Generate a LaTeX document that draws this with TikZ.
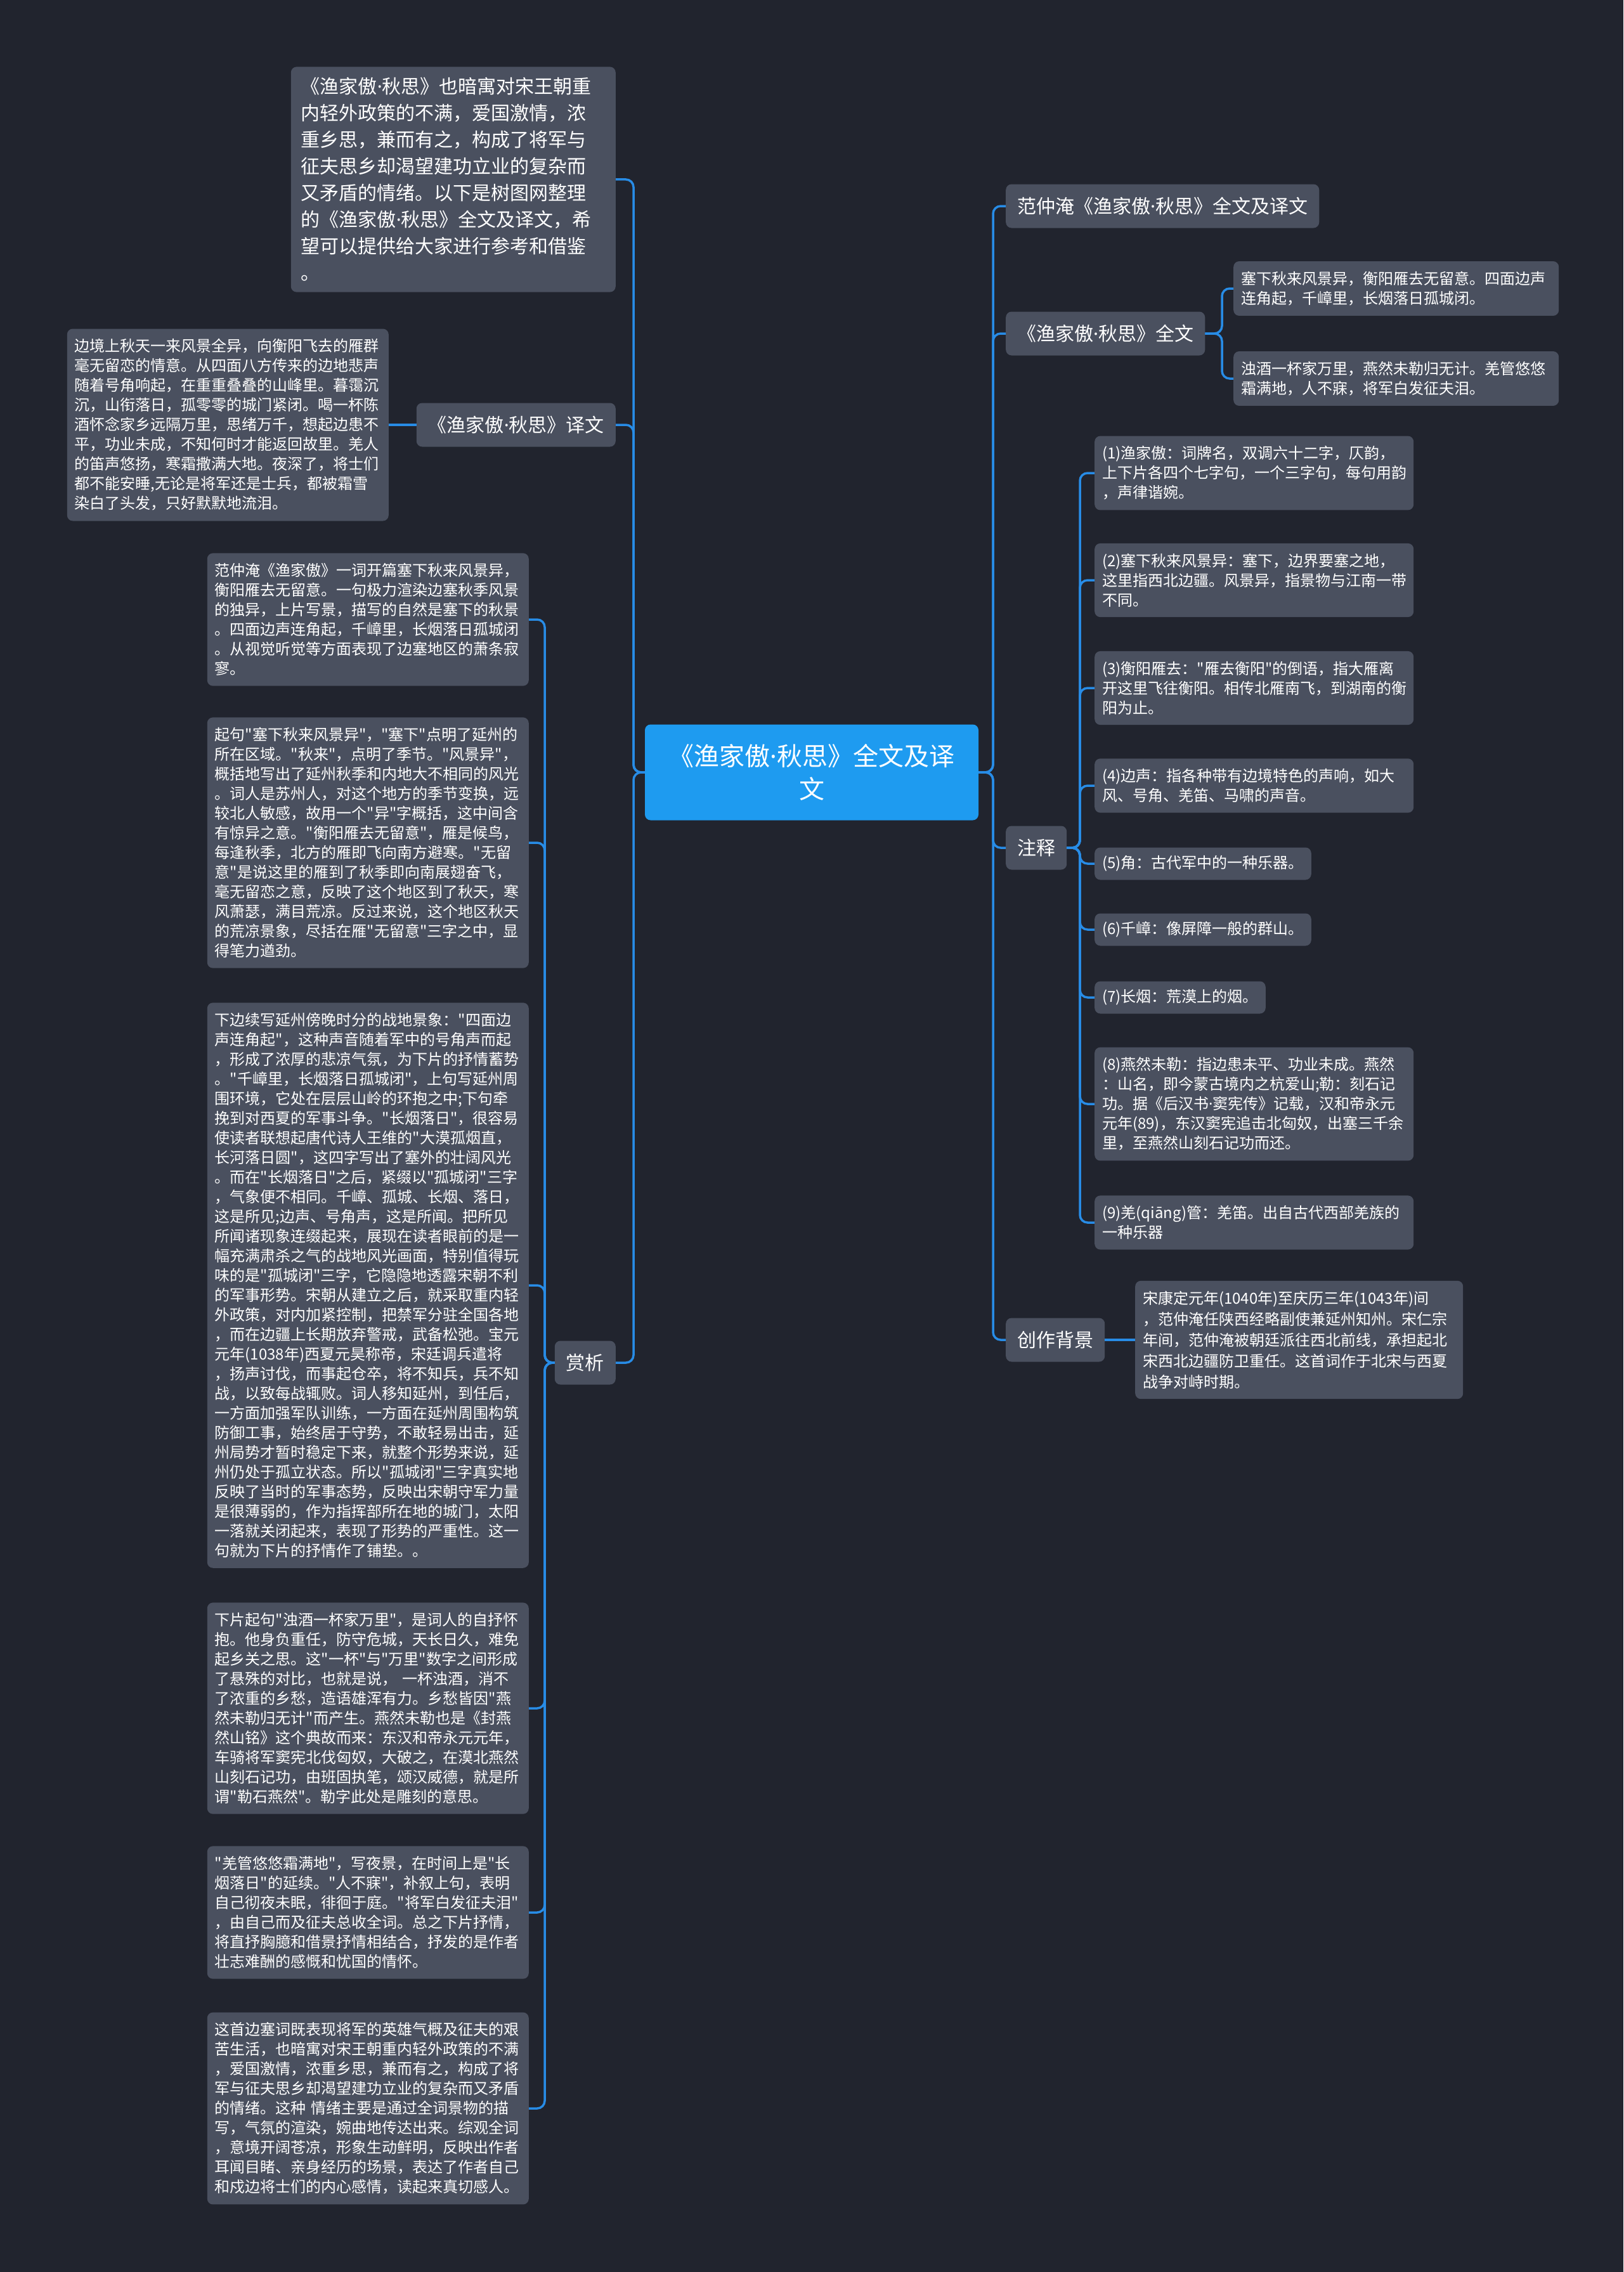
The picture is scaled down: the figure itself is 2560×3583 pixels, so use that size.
\documentclass[tikz,border=0pt]{standalone}
\usepackage{fontspec}
\setmainfont{Noto Sans CJK SC}[Ligatures=TeXOff]
\newfontfamily\latinf{Noto Sans}[Ligatures=TeXOff]
\newcommand\md{{\latinf ·}}
\definecolor{bgc}{HTML}{21242E}
\definecolor{boxc}{HTML}{4A505F}
\definecolor{linec}{HTML}{288CE6}
\definecolor{centc}{HTML}{1E9BF0}
\begin{document}
\begin{tikzpicture}[x=1pt,y=-1pt,
  conn/.style={draw=linec, line width=3.5pt, rounded corners=12pt},
  cnode/.style={fill=centc, text=white, rounded corners=9pt, minimum width=526pt, minimum height=151pt, align=center, font=\fontsize{40}{52}\selectfont},
  lbox/.style={fill=boxc, text=white, rounded corners=9pt, inner xsep=18pt, inner ysep=0pt, minimum height=69pt, font=\fontsize{30}{42}\selectfont},
  bigbox/.style={fill=boxc, text=white, rounded corners=9pt, inner xsep=16pt, inner ysep=17pt, align=left, font=\fontsize{30}{42}\selectfont},
  sbox/.style={fill=boxc, text=white, rounded corners=9pt, inner xsep=12pt, inner ysep=16pt, align=left, font=\fontsize{24}{31}\selectfont},
  onebox/.style={fill=boxc, text=white, rounded corners=9pt, inner xsep=12pt, inner ysep=0pt, minimum height=51pt, font=\fontsize{24}{31}\selectfont}
]
\fill[bgc] (0,0) rectangle (2560,3583);
\useasboundingbox (0,0) rectangle (2560,3583);

% trunk coordinates
\coordinate (L) at (999,1218);
\coordinate (R) at (1566,1218);
\coordinate (Ls) at (859,0);
\coordinate (Rq) at (1927,0);
\coordinate (Rz) at (1703,0);

% centre
\node[cnode] (c) at (1280,1218) {《渔家傲\md 秋思》全文及译\\文};

% ---------- left side ----------
\node[bigbox, anchor=east, text width=480pt] (intro) at (971,283) {《渔家傲\md 秋思》也暗寓对宋王朝重\\内轻外政策的不满，爱国激情，浓\\重乡思，兼而有之，构成了将军与\\征夫思乡却渴望建功立业的复杂而\\又矛盾的情绪。以下是树图网整理\\的《渔家傲\md 秋思》全文及译文，希\\望可以提供给大家进行参考和借鉴\\。};

\node[lbox, anchor=east] (yw) at (971,670) {《渔家傲\md 秋思》译文};
\node[sbox, anchor=east, text width=483pt] (ywt) at (613,670) {边境上秋天一来风景全异，向衡阳飞去的雁群\\毫无留恋的情意。从四面八方传来的边地悲声\\随着号角响起，在重重叠叠的山峰里。暮霭沉\\沉，山衔落日，孤零零的城门紧闭。喝一杯陈\\酒怀念家乡远隔万里，思绪万千，想起边患不\\平，功业未成，不知何时才能返回故里。羌人\\的笛声悠扬，寒霜撒满大地。夜深了，将士们\\都不能安睡,无论是将军还是士兵，都被霜雪\\染白了头发，只好默默地流泪。};

\node[lbox, anchor=east] (sx) at (971,2149) {赏析};
\node[sbox, anchor=east, text width=483pt] (s1) at (834,977) {范仲淹《渔家傲》一词开篇塞下秋来风景异，\\衡阳雁去无留意。一句极力渲染边塞秋季风景\\的独异，上片写景，描写的自然是塞下的秋景\\。四面边声连角起，千嶂里，长烟落日孤城闭\\。从视觉听觉等方面表现了边塞地区的萧条寂\\寥。};
\node[sbox, anchor=east, text width=483pt] (s2) at (834,1329) {起句"塞下秋来风景异"，"塞下"点明了延州的\\所在区域。"秋来"，点明了季节。"风景异"，\\概括地写出了延州秋季和内地大不相同的风光\\。词人是苏州人，对这个地方的季节变换，远\\较北人敏感，故用一个"异"字概括，这中间含\\有惊异之意。"衡阳雁去无留意"，雁是候鸟，\\每逢秋季，北方的雁即飞向南方避寒。"无留\\意"是说这里的雁到了秋季即向南展翅奋飞，\\毫无留恋之意，反映了这个地区到了秋天，寒\\风萧瑟，满目荒凉。反过来说，这个地区秋天\\的荒凉景象，尽括在雁"无留意"三字之中，显\\得笔力遒劲。};
\node[sbox, anchor=east, text width=483pt] (s3) at (834,2027) {下边续写延州傍晚时分的战地景象："四面边\\声连角起"，这种声音随着军中的号角声而起\\，形成了浓厚的悲凉气氛，为下片的抒情蓄势\\。"千嶂里，长烟落日孤城闭"，上句写延州周\\围环境，它处在层层山岭的环抱之中;下句牵\\挽到对西夏的军事斗争。"长烟落日"，很容易\\使读者联想起唐代诗人王维的"大漠孤烟直，\\长河落日圆"，这四字写出了塞外的壮阔风光\\。而在"长烟落日"之后，紧缀以"孤城闭"三字\\，气象便不相同。千嶂、孤城、长烟、落日，\\这是所见;边声、号角声，这是所闻。把所见\\所闻诸现象连缀起来，展现在读者眼前的是一\\幅充满肃杀之气的战地风光画面，特别值得玩\\味的是"孤城闭"三字，它隐隐地透露宋朝不利\\的军事形势。宋朝从建立之后，就采取重内轻\\外政策，对内加紧控制，把禁军分驻全国各地\\，而在边疆上长期放弃警戒，武备松弛。宝元\\元年(1038年)西夏元昊称帝，宋廷调兵遣将\\，扬声讨伐，而事起仓卒，将不知兵，兵不知\\战，以致每战辄败。词人移知延州，到任后，\\一方面加强军队训练，一方面在延州周围构筑\\防御工事，始终居于守势，不敢轻易出击，延\\州局势才暂时稳定下来，就整个形势来说，延\\州仍处于孤立状态。所以"孤城闭"三字真实地\\反映了当时的军事态势，反映出宋朝守军力量\\是很薄弱的，作为指挥部所在地的城门，太阳\\一落就关闭起来，表现了形势的严重性。这一\\句就为下片的抒情作了铺垫。。};
\node[sbox, anchor=east, text width=483pt] (s4) at (834,2694) {下片起句"浊酒一杯家万里"，是词人的自抒怀\\抱。他身负重任，防守危城，天长日久，难免\\起乡关之思。这"一杯"与"万里"数字之间形成\\了悬殊的对比，也就是说， 一杯浊酒，消不\\了浓重的乡愁，造语雄浑有力。乡愁皆因"燕\\然未勒归无计"而产生。燕然未勒也是《封燕\\然山铭》这个典故而来：东汉和帝永元元年，\\车骑将军窦宪北伐匈奴，大破之，在漠北燕然\\山刻石记功，由班固执笔，颂汉威德，就是所\\谓"勒石燕然"。勒字此处是雕刻的意思。};
\node[sbox, anchor=east, text width=483pt] (s5) at (834,3016) {"羌管悠悠霜满地"，写夜景，在时间上是"长\\烟落日"的延续。"人不寐"，补叙上句，表明\\自己彻夜未眠，徘徊于庭。"将军白发征夫泪"\\，由自己而及征夫总收全词。总之下片抒情，\\将直抒胸臆和借景抒情相结合，抒发的是作者\\壮志难酬的感慨和忧国的情怀。};
\node[sbox, anchor=east, text width=483pt] (s6) at (834,3325) {这首边塞词既表现将军的英雄气概及征夫的艰\\苦生活，也暗寓对宋王朝重内轻外政策的不满\\，爱国激情，浓重乡思，兼而有之，构成了将\\军与征夫思乡却渴望建功立业的复杂而又矛盾\\的情绪。这种 情绪主要是通过全词景物的描\\写，气氛的渲染，婉曲地传达出来。综观全词\\，意境开阔苍凉，形象生动鲜明，反映出作者\\耳闻目睹、亲身经历的场景，表达了作者自己\\和戍边将士们的内心感情，读起来真切感人。};

% ---------- right side ----------
\node[lbox, anchor=west] (t1) at (1586,325) {范仲淹《渔家傲\md 秋思》全文及译文};
\node[lbox, anchor=west] (qw) at (1586,526) {《渔家傲\md 秋思》全文};
\node[sbox, anchor=west, text width=489pt] (q1) at (1945,455) {塞下秋来风景异，衡阳雁去无留意。四面边声\\连角起，千嶂里，长烟落日孤城闭。};
\node[sbox, anchor=west, text width=489pt] (q2) at (1945,597) {浊酒一杯家万里，燕然未勒归无计。羌管悠悠\\霜满地，人不寐，将军白发征夫泪。};

\node[lbox, anchor=west] (zs) at (1586,1337) {注释};
\node[sbox, anchor=west, text width=479pt] (n1) at (1726,746) {(1)渔家傲：词牌名，双调六十二字，仄韵，\\上下片各四个七字句，一个三字句，每句用韵\\，声律谐婉。};
\node[sbox, anchor=west, text width=479pt] (n2) at (1726,915) {(2)塞下秋来风景异：塞下，边界要塞之地，\\这里指西北边疆。风景异，指景物与江南一带\\不同。};
\node[sbox, anchor=west, text width=479pt] (n3) at (1726,1085) {(3)衡阳雁去："雁去衡阳"的倒语，指大雁离\\开这里飞往衡阳。相传北雁南飞，到湖南的衡\\阳为止。};
\node[sbox, anchor=west, text width=479pt] (n4) at (1726,1239) {(4)边声：指各种带有边境特色的声响，如大\\风、号角、羌笛、马啸的声音。};
\node[onebox, anchor=west] (n5) at (1726,1362) {(5)角：古代军中的一种乐器。};
\node[onebox, anchor=west] (n6) at (1726,1466) {(6)千嶂：像屏障一般的群山。};
\node[onebox, anchor=west] (n7) at (1726,1573) {(7)长烟：荒漠上的烟。};
\node[sbox, anchor=west, text width=479pt] (n8) at (1726,1741) {(8)燕然未勒：指边患未平、功业未成。燕然\\：山名，即今蒙古境内之杭爱山;勒：刻石记\\功。据《后汉书\md 窦宪传》记载，汉和帝永元\\元年(89)，东汉窦宪追击北匈奴，出塞三千余\\里，至燕然山刻石记功而还。};
\node[sbox, anchor=west, text width=479pt] (n9) at (1726,1928) {(9)羌(qiāng)管：羌笛。出自古代西部羌族的\\一种乐器};

\node[lbox, anchor=west] (bj) at (1586,2113) {创作背景};
\node[sbox, anchor=west, text width=493pt, font=\fontsize{24}{33}\selectfont] (bjt) at (1790,2113) {宋康定元年(1040年)至庆历三年(1043年)间\\，范仲淹任陕西经略副使兼延州知州。宋仁宗\\年间，范仲淹被朝廷派往西北前线，承担起北\\宋西北边疆防卫重任。这首词作于北宋与西夏\\战争对峙时期。};

% ---------- connectors ----------
\draw[conn] (c.west) -- (c.west -| L) |- (intro.east);
\draw[conn] (c.west) -- (c.west -| L) |- (yw.east);
\draw[conn] (c.west) -- (c.west -| L) |- (sx.east);
\draw[conn] (yw.west) -- (ywt.east);
\foreach \k in {s1,s2,s3,s4,s5,s6}{
  \draw[conn] (sx.west) -- (sx.west -| Ls) |- (\k.east);
}
\foreach \k in {t1,qw,zs,bj}{
  \draw[conn] (c.east) -- (c.east -| R) |- (\k.west);
}
\foreach \k in {q1,q2}{
  \draw[conn] (qw.east) -- (qw.east -| Rq) |- (\k.west);
}
\foreach \k in {n1,n2,n3,n4,n5,n6,n7,n8,n9}{
  \draw[conn] (zs.east) -- (zs.east -| Rz) |- (\k.west);
}
\draw[conn] (bj.east) -- (bjt.west);
\end{tikzpicture}
\end{document}
